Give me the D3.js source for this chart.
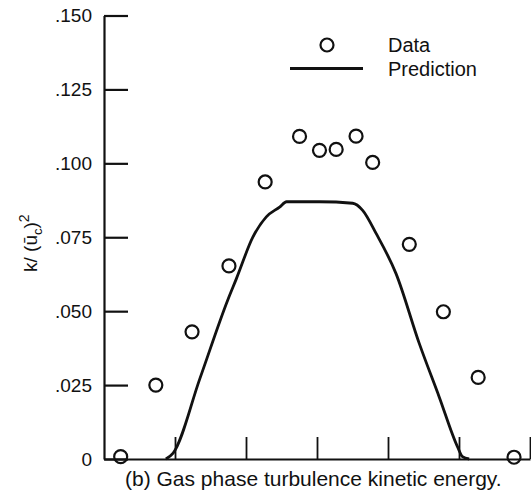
<!DOCTYPE html>
<html>
<head>
<meta charset="utf-8">
<script src="https://cdn.jsdelivr.net/npm/d3@7"></script>
<style>
  html, body { margin: 0; padding: 0; background: #fff; }
  svg { display: block; }
  text { font-family: "Liberation Sans", Arial, Helvetica, sans-serif; fill: #111; }
</style>
</head>
<body>
<svg id="chart" width="531" height="497"></svg>
<script>
// ---- data ----
const dataX = [0.235, 0.73, 1.24, 1.76, 2.27, 2.754, 3.035, 3.27, 3.55, 3.784, 4.30, 4.78, 5.27, 5.775];
const dataK = [0.0008, 0.025, 0.043, 0.0653, 0.0937, 0.1091, 0.1044, 0.1047, 0.1092, 0.1003, 0.0726, 0.0498, 0.0276, 0.0006];

const predX = [0.871, 0.974, 1.349, 1.742, 1.865, 2.098, 2.286, 2.473, 2.571, 3.035, 3.503, 3.643, 3.832, 4.113, 4.44, 4.721, 4.978, 5.049, 5.143];
const predK = [0, 0.002, 0.0271, 0.0537, 0.0610, 0.0751, 0.0819, 0.0852, 0.0870, 0.0870, 0.0865, 0.0841, 0.0763, 0.0627, 0.0391, 0.0210, 0.0042, 0.0008, 0];

const yTickValues = [0, 0.025, 0.05, 0.075, 0.1, 0.125, 0.15];
const yTickLabels = ["0", ".025", ".050", ".075", ".100", ".125", ".150"];
const xTickValues = [1, 2, 3, 4, 5, 6];

const legendLabels = ["Data", "Prediction"];
const caption = "(b) Gas phase turbulence kinetic energy.";

// ---- layout ----
const svg = d3.select("#chart");
const x = d3.scaleLinear().domain([0, 6]).range([104, 530]);
const y = d3.scaleLinear().domain([0, 0.15]).range([459, 15.5]);

// y axis
const yAxis = d3.axisLeft(y)
  .tickValues(yTickValues)
  .tickFormat((d, i) => yTickLabels[i])
  .tickSizeInner(-24)
  .tickSizeOuter(0)
  .tickPadding(12);
const gy = svg.append("g").attr("transform", `translate(${x(0)},0)`).call(yAxis);
gy.select(".domain").attr("stroke", "#111").attr("stroke-width", 2.2);
gy.selectAll(".tick line").attr("stroke", "#111").attr("stroke-width", 2.2);
gy.selectAll(".tick text")
  .attr("font-size", 19)
  .attr("font-family", "'Liberation Sans', Arial, sans-serif")
  .attr("fill", "#111");

// x axis
const xAxis = d3.axisBottom(x)
  .tickValues(xTickValues)
  .tickFormat("")
  .tickSizeInner(-22)
  .tickSizeOuter(0);
const gx = svg.append("g").attr("transform", `translate(0,${y(0)})`).call(xAxis);
gx.select(".domain").attr("stroke", "#111").attr("stroke-width", 2.2);
gx.selectAll(".tick line").attr("stroke", "#111").attr("stroke-width", 1.8);

// prediction line
const line = d3.line()
  .x((d, i) => x(predX[i]))
  .y((d, i) => y(predK[i]))
  .curve(d3.curveMonotoneX);
svg.append("path")
  .datum(predX)
  .attr("d", line)
  .attr("fill", "none")
  .attr("stroke", "#111")
  .attr("stroke-width", 2.8)
  .attr("stroke-linejoin", "round");

// data circles
svg.append("g").selectAll("circle")
  .data(dataX)
  .join("circle")
  .attr("cx", (d) => x(d))
  .attr("cy", (d, i) => y(dataK[i]))
  .attr("r", 6.5)
  .attr("fill", "none")
  .attr("stroke", "#111")
  .attr("stroke-width", 2.2);

// legend
const lg = svg.append("g");
lg.append("circle").attr("cx", 327).attr("cy", 45).attr("r", 6.5)
  .attr("fill", "none").attr("stroke", "#111").attr("stroke-width", 2.2);
lg.append("line").attr("x1", 290).attr("x2", 363).attr("y1", 68.5).attr("y2", 68.5)
  .attr("stroke", "#111").attr("stroke-width", 3);
lg.append("text").attr("x", 388).attr("y", 52).attr("font-size", 20).text(legendLabels[0]);
lg.append("text").attr("x", 388).attr("y", 76).attr("font-size", 20).text(legendLabels[1]);

// y label
const yl = svg.append("text")
  .attr("transform", "translate(37,272) rotate(-90)")
  .attr("font-size", 19);
yl.append("tspan").text("k/ (ū");
yl.append("tspan").attr("font-size", 13).attr("dy", 5).text("c");
yl.append("tspan").attr("dy", -5).text(")");
yl.append("tspan").attr("font-size", 14).attr("dy", -8).text("2");

// caption
svg.append("text").attr("x", 125).attr("y", 486).attr("font-size", 21).text(caption);
</script>
</body>
</html>
